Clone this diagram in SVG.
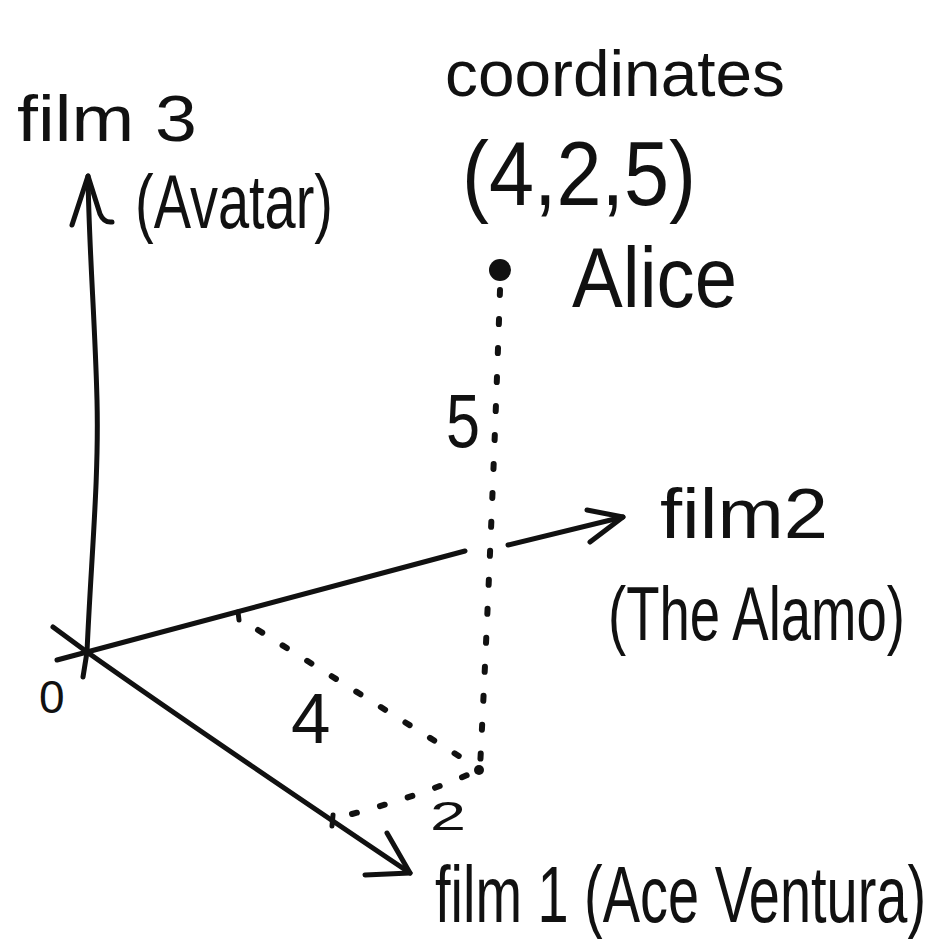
<svg xmlns="http://www.w3.org/2000/svg" width="933" height="946" viewBox="0 0 933 946">
<style>
.t{font-family:"Liberation Sans",Arial,sans-serif;fill:#111;}
.ax{fill:none;stroke:#111;stroke-width:5;stroke-linecap:round;stroke-linejoin:round;}
.dot{fill:none;stroke:#111;stroke-width:6;stroke-linecap:round;stroke-dasharray:5 24;}
</style>
<rect width="933" height="946" fill="#fff"/>
<g id="connectors">
  <g id="axis-film3">
    <path class="ax" d="M83,677 L87,652 C91,560 99,480 97,400 C95,320 89,250 88,176"/>
    <path class="ax" d="M72,225 L88,176 L100,214 Q104,223 112,222"/>
  </g>
  <g id="axis-film2">
    <path class="ax" d="M57,660 L87,652 Q280,600 465,551"/>
    <path class="ax" d="M508,545 L623,517"/>
    <path class="ax" d="M587,510 L623,517 L590,542"/>
    <path class="ax" d="M238,612 L239,620"/>
  </g>
  <g id="axis-film1">
    <path class="ax" d="M53,627 L87,652 Q190,725 410,873"/>
    <path class="ax" d="M387,833 L410,873 L365,875"/>
    <path class="ax" d="M333,815 L332,826"/>
  </g>
  <path id="proj-4" class="dot" d="M258,630 L462,758"/>
  <path id="proj-2" class="dot" d="M352,814 Q420,796 479,770"/>
  <path id="proj-5" class="dot" d="M500,290 Q492,530 480,768"/>
  <circle cx="479" cy="770" r="5" fill="#111"/>
</g>
<g id="alice">
  <circle cx="500" cy="270" r="11" fill="#111"/>
  <text class="t" x="572" y="307" font-size="86" textLength="165" lengthAdjust="spacingAndGlyphs">Alice</text>
</g>
<g id="coords">
  <text class="t" x="445" y="96" font-size="64" textLength="340" lengthAdjust="spacingAndGlyphs">coordinates</text>
  <text class="t" x="462" y="205" font-size="90" textLength="234" lengthAdjust="spacingAndGlyphs">(4,2,5)</text>
</g>
<g id="label-film3">
  <text class="t" x="17" y="141" font-size="64" textLength="180" lengthAdjust="spacingAndGlyphs">film 3</text>
  <text class="t" x="135" y="228" font-size="76" textLength="198" lengthAdjust="spacingAndGlyphs">(Avatar)</text>
</g>
<g id="label-film2">
  <text class="t" x="660" y="538" font-size="70" textLength="168" lengthAdjust="spacingAndGlyphs">film2</text>
  <text class="t" transform="matrix(1,0,0,1.3,608,640)" x="0" y="0" font-size="58" textLength="297" lengthAdjust="spacingAndGlyphs">(The Alamo)</text>
</g>
<g id="label-film1">
  <text class="t" transform="matrix(1,0,0,1.45,435,922)" x="0" y="0" font-size="55" textLength="491" lengthAdjust="spacingAndGlyphs">film 1 (Ace Ventura)</text>
</g>
<g id="label-origin">
  <text class="t" x="39" y="713" font-size="46">0</text>
</g>
<g id="value-4">
  <text class="t" x="291" y="743" font-size="71">4</text>
</g>
<g id="value-2">
  <text class="t" x="430" y="830" font-size="40" textLength="36" lengthAdjust="spacingAndGlyphs">2</text>
</g>
<g id="value-5">
  <text class="t" x="446" y="447" font-size="76" textLength="34" lengthAdjust="spacingAndGlyphs">5</text>
</g>
</svg>
